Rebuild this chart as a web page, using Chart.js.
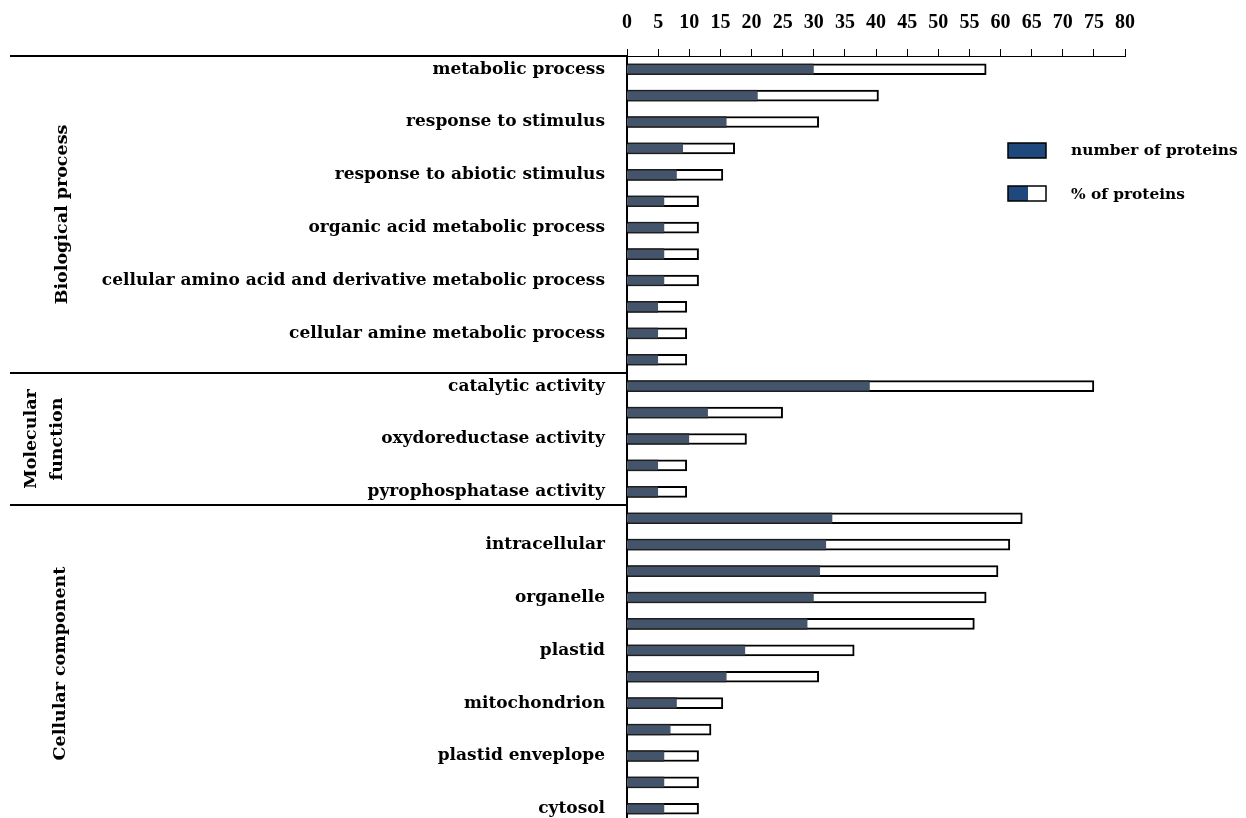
<!DOCTYPE html>
<html>
<head>
<meta charset="utf-8">
<script src="https://cdn.jsdelivr.net/npm/chart.js@4/dist/chart.umd.min.js"></script>
<style>
  html, body { margin: 0; padding: 0; background: #fff; overflow: hidden; }
  canvas { display: block; }
</style>
</head>
<body>
<canvas id="chart" width="1246" height="822"></canvas>
<script>
// GO term categories (only every other term is labelled on the axis)
const categories = [
  'metabolic process', '', 'response to stimulus', '', 'response to abiotic stimulus', '',
  'organic acid metabolic process', '', 'cellular amino acid and derivative metabolic process', '',
  'cellular amine metabolic process', '',
  'catalytic activity', '', 'oxydoreductase activity', '', 'pyrophosphatase activity',
  '', 'intracellular', '', 'organelle', '', 'plastid', '', 'mitochondrion', '',
  'plastid enveplope', '', 'cytosol'
];

const numberOfProteins = [
  30, 21, 16, 9, 8, 6, 6, 6, 6, 5, 5, 5,
  39, 13, 10, 5, 5,
  33, 32, 31, 30, 29, 19, 16, 8, 7, 6, 6, 6
];

const percentOfProteins = [
  57.7, 40.4, 30.8, 17.3, 15.4, 11.5, 11.5, 11.5, 11.5, 9.6, 9.6, 9.6,
  75.0, 25.0, 19.2, 9.6, 9.6,
  63.5, 61.5, 59.6, 57.7, 55.8, 36.5, 30.8, 15.4, 13.5, 11.5, 11.5, 11.5
];

const groupNames = [['Biological process'], ['Molecular', 'function'], ['Cellular component']];
const groupSizes = [12, 5, 12];

const xMin = 0, xMax = 80, xStep = 5;

const TEXT_FONT = '"DejaVu Serif", "Liberation Serif", serif';
const NUM_FONT = '"Liberation Serif", "DejaVu Serif", serif';
const DARK = '#44546a';
const LEGEND_BLUE = '#1f497d';

// Group separators, rotated group titles and the legend
const decorations = {
  id: 'decorations',
  afterDraw(chart) {
    const { ctx, chartArea, scales } = chart;
    const y = scales.y;
    const left = 10;
    ctx.save();
    ctx.strokeStyle = '#000';
    ctx.lineWidth = 2;

    // boundaries between groups
    const bounds = [chartArea.top];
    let idx = 0;
    groupSizes.forEach(n => {
      idx += n;
      if (idx < categories.length) {
        bounds.push((y.getPixelForValue(idx - 1) + y.getPixelForValue(idx)) / 2);
      } else {
        bounds.push(chartArea.bottom);
      }
    });
    bounds.slice(0, bounds.length - 1).forEach(b => {
      ctx.beginPath();
      ctx.moveTo(left, Math.round(b));
      ctx.lineTo(chartArea.left, Math.round(b));
      ctx.stroke();
    });

    // rotated group titles
    ctx.fillStyle = '#000';
    ctx.font = 'bold 17.5px ' + TEXT_FONT;
    ctx.textAlign = 'center';
    ctx.textBaseline = 'middle';
    const titleX = [62, 44, 60];
    groupNames.forEach((lines, g) => {
      const cy = (bounds[g] + bounds[g + 1]) / 2;
      const lh = 26;
      lines.forEach((t, i) => {
        const cx = titleX[g] - (lines.length - 1) * lh / 2 + i * lh;
        ctx.save();
        ctx.translate(cx, cy);
        ctx.rotate(-Math.PI / 2);
        ctx.fillText(t, 0, 0);
        ctx.restore();
      });
    });

    // legend
    ctx.lineWidth = 1.5;
    ctx.fillStyle = LEGEND_BLUE;
    ctx.fillRect(1008, 143, 38, 15);
    ctx.strokeStyle = '#000';
    ctx.strokeRect(1008, 143, 38, 15);
    ctx.fillStyle = '#fff';
    ctx.fillRect(1008, 186, 38, 15);
    ctx.fillStyle = LEGEND_BLUE;
    ctx.fillRect(1008, 186, 20, 15);
    ctx.strokeRect(1008, 186, 38, 15);

    ctx.fillStyle = '#000';
    ctx.font = 'bold 15.4px ' + TEXT_FONT;
    ctx.textAlign = 'left';
    ctx.textBaseline = 'middle';
    ctx.fillText('number of proteins', 1071, 151);
    ctx.fillText('% of proteins', 1071, 195);
    ctx.restore();
  }
};

new Chart(document.getElementById('chart'), {
  type: 'bar',
  data: {
    labels: categories,
    datasets: [
      {
        label: 'number of proteins',
        data: numberOfProteins,
        backgroundColor: DARK,
        borderColor: '#1e1e1e',
        borderWidth: { top: 1.5, bottom: 1.5, left: 0, right: 0 },
        borderSkipped: false,
        barThickness: 11,
        grouped: false
      },
      {
        label: '% of proteins',
        data: percentOfProteins,
        backgroundColor: '#fff',
        borderColor: '#000',
        borderWidth: 2,
        borderSkipped: 'start',
        barThickness: 11,
        grouped: false
      }
    ]
  },
  options: {
    indexAxis: 'y',
    responsive: false,
    animation: false,
    devicePixelRatio: 1,
    layout: { padding: { left: 0, right: 121, top: 0, bottom: 0 } },
    plugins: { legend: { display: false }, tooltip: { enabled: false } },
    scales: {
      x: {
        position: 'top',
        min: xMin,
        max: xMax,
        afterFit(scale) { scale.height = 56; },
        ticks: {
          stepSize: xStep,
          padding: 14,
          color: '#000',
          font: { family: NUM_FONT, size: 20, weight: 'bold' }
        },
        grid: {
          display: true,
          drawOnChartArea: false,
          drawTicks: true,
          tickLength: 7,
          color: '#000',
          lineWidth: 1
        },
        border: { display: true, color: '#000', width: 1 }
      },
      y: {
        afterFit(scale) {
          scale.width = 627;
          scale.paddingTop = 0;
          scale.paddingBottom = 0;
        },
        ticks: {
          autoSkip: false,
          padding: 22,
          color: '#000',
          font: { family: TEXT_FONT, size: 17, weight: 'bold' }
        },
        grid: { display: false, drawTicks: false },
        border: { display: true, color: '#000', width: 2 }
      }
    }
  },
  plugins: [decorations]
});
</script>
</body>
</html>
